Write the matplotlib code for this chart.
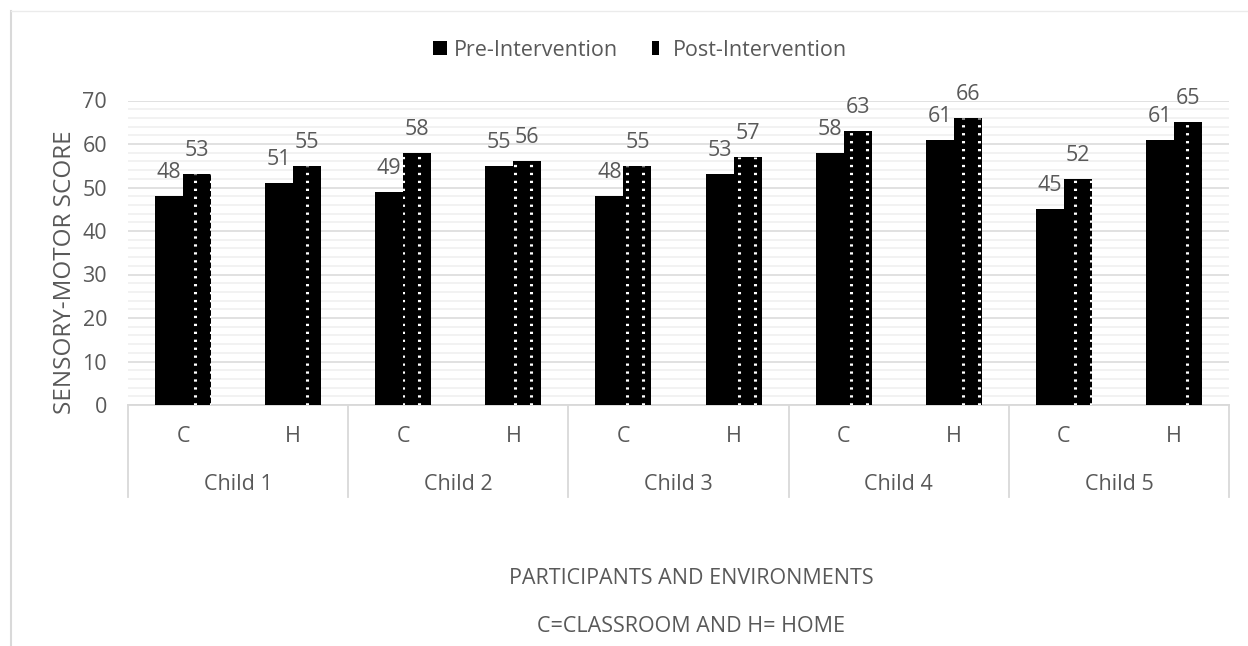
import numpy as np
import matplotlib
matplotlib.use("Agg")
import matplotlib.pyplot as plt
from matplotlib.patches import Patch
from matplotlib.lines import Line2D
from matplotlib.path import Path
from matplotlib.legend_handler import HandlerTuple

plt.rcParams['font.family'] = ['Open Sans', 'DejaVu Sans']

# Data
children = ["Child 1", "Child 2", "Child 3", "Child 4", "Child 5"]
environments = ["C", "H"]
pre_scores = [48, 51, 49, 55, 48, 53, 58, 61, 45, 61]
post_scores = [53, 55, 58, 56, 55, 57, 63, 66, 52, 65]
series_names = ["Pre-Intervention", "Post-Intervention"]
y_label = "SENSORY-MOTOR SCORE"
x_title = "PARTICIPANTS AND ENVIRONMENTS"
x_note = "C=CLASSROOM AND H= HOME"

TEXT = "#595959"
GRID_MAJOR = "#d9d9d9"
GRID_MINOR = "#efefef"
FS = 15.5

W, H = 1248, 646
fig = plt.figure(figsize=(W / 100, H / 100), dpi=100)
fig.patch.set_facecolor("white")

# Plot area in pixel terms
left_px, right_px, top_px, bottom_px = 128, 1229, 100.5, 405
ax = fig.add_axes([left_px / W, 1 - bottom_px / H,
                   (right_px - left_px) / W, (bottom_px - top_px) / H])

n = len(pre_scores)
x = np.arange(n)
bw = 0.2543

ax.bar(x - bw / 2, pre_scores, width=bw, color="black", linewidth=0, zorder=3)
post_bars = ax.bar(x + bw / 2, post_scores, width=bw, color="black", linewidth=0, zorder=3)

# White dotted columns on the post-intervention bars
cat_px = (right_px - left_px) / n
period = 16 / cat_px
phase = (195 - (left_px + cat_px / 2)) / cat_px
tol = 2 / cat_px
for xi, v, rect in zip(x, post_scores, post_bars):
    lo, hi = xi, xi + bw
    k = int(np.ceil((lo - tol - phase) / period))
    while phase + k * period <= hi + tol:
        c = phase + k * period
        ln, = ax.plot([c, c], [0, v], color="white", lw=2.2,
                      linestyle=(0, (0.75, 1.85)), solid_capstyle="butt",
                      zorder=4)
        ln.set_clip_path(rect)
        k += 1

# Value labels
for xi, v in zip(x, pre_scores):
    ax.annotate(str(v), (xi - bw / 2, v), xytext=(0, 13), textcoords="offset points",
                ha="center", va="baseline", fontsize=FS, color=TEXT, zorder=5)
for xi, v in zip(x, post_scores):
    ax.annotate(str(v), (xi + bw / 2, v), xytext=(0, 13), textcoords="offset points",
                ha="center", va="baseline", fontsize=FS, color=TEXT, zorder=5)

ax.set_xlim(-0.5, n - 0.5)
ax.set_ylim(0, 70)
ax.set_yticks(np.arange(0, 71, 10))
ax.set_yticks(np.arange(0, 71, 2), minor=True)
ax.yaxis.grid(True, which="major", color=GRID_MAJOR, lw=1.1, zorder=0)
ax.yaxis.grid(True, which="minor", color=GRID_MINOR, lw=1.1, zorder=0)
ax.set_axisbelow(True)
ax.tick_params(axis="y", which="both", length=0, pad=15, labelsize=FS, labelcolor=TEXT)
ax.tick_params(axis="x", which="both", length=0)
ax.set_xticks([])
for s in ["top", "right", "left"]:
    ax.spines[s].set_visible(False)
ax.spines["bottom"].set_color(GRID_MAJOR)
ax.spines["bottom"].set_linewidth(1.3)

# Two-level category axis
plot_h = bottom_px - top_px
y_env = -(437 - bottom_px) / plot_h
y_child = -(484 - bottom_px) / plot_h
y_sep = -(497 - bottom_px) / plot_h
trans = ax.get_xaxis_transform()
for i in range(n):
    ax.text(x[i], y_env, environments[i % 2], transform=trans, ha="center",
            va="center", fontsize=FS, color=TEXT)
for j, name in enumerate(children):
    ax.text(2 * j + 0.5, y_child, name, transform=trans, ha="center",
            va="center", fontsize=FS, color=TEXT)
for b in np.arange(-0.5, n, 2):
    ax.add_line(Line2D([b, b], [0, y_sep], transform=trans, color=GRID_MAJOR,
                       lw=1.3, clip_on=False))

# Axis titles
fig.text(65 / W, 1 - 272 / H, y_label, rotation=90, ha="center", va="center",
         fontsize=17.5, color=TEXT)
fig.text(691 / W, 1 - 578 / H, x_title, ha="center", va="center",
         fontsize=15.5, color=TEXT)
fig.text(691 / W, 1 - 627 / H, x_note, ha="center", va="center",
         fontsize=15.5, color=TEXT)

# Legend
dot_verts = [(-0.15, 0.2), (0.15, 0.2), (0.15, 0.6), (-0.15, 0.6), (-0.15, 0.2),
             (-0.15, -0.6), (0.15, -0.6), (0.15, -0.2), (-0.15, -0.2), (-0.15, -0.6)]
dot_codes = [Path.MOVETO, Path.LINETO, Path.LINETO, Path.LINETO, Path.CLOSEPOLY] * 2
dots = Line2D([], [], linestyle="none", marker=Path(dot_verts, dot_codes),
              markersize=7, markerfacecolor="white", markeredgewidth=0)
handles = [Patch(facecolor="black", linewidth=0),
           (Patch(facecolor="black", linewidth=0), dots)]
fig.legend(handles, series_names, loc="center", bbox_to_anchor=(640 / W, 1 - 50 / H),
           ncol=2, frameon=False, fontsize=FS, labelcolor=TEXT,
           handlelength=0.65, handleheight=0.65, handletextpad=0.3,
           columnspacing=1.6, handler_map={tuple: HandlerTuple(ndivide=None, pad=0)})

# Chart frame
fig.add_artist(Line2D([11 / W, 11 / W], [1 - 11 / H, 0], transform=fig.transFigure,
                      color="#d9d9d9", lw=1.5))
fig.add_artist(Line2D([11 / W, 1], [1 - 11 / H, 1 - 11 / H], transform=fig.transFigure,
                      color="#ebebeb", lw=1.0))

fig.savefig("out.png", dpi=100)
